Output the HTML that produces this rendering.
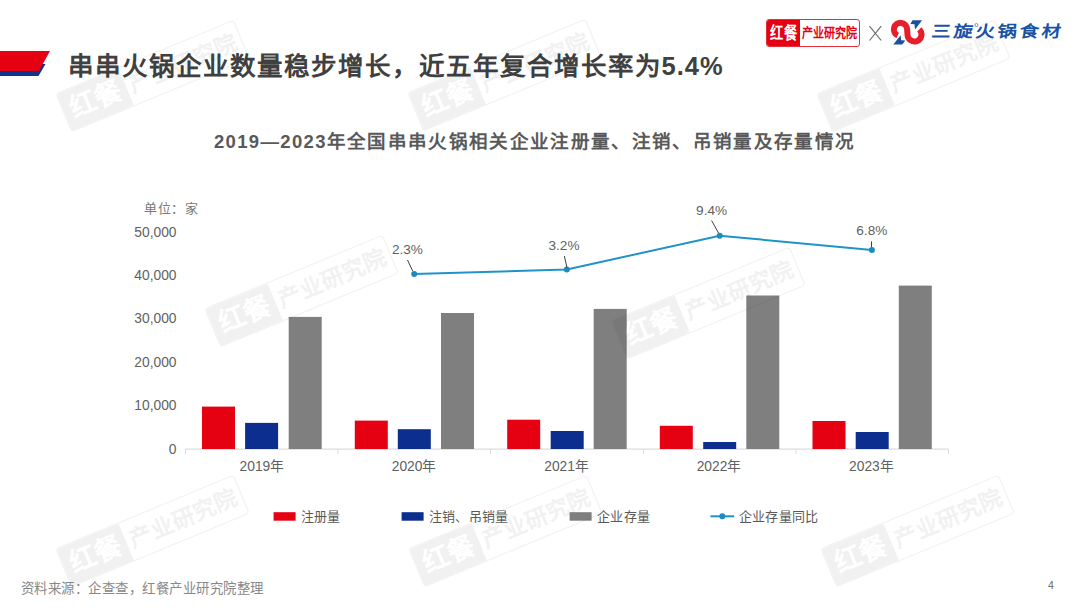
<!DOCTYPE html>
<html lang="zh-CN">
<head>
<meta charset="utf-8">
<style>
*{margin:0;padding:0;box-sizing:border-box}
html,body{width:1080px;height:608px;overflow:hidden;background:#fff}
body{position:relative;font-family:"Liberation Sans",sans-serif;color:#595959}
.abs{position:absolute;white-space:nowrap}
#title{left:67.5px;top:48.3px;font-size:25.5px;font-weight:bold;color:#404040;line-height:36px;letter-spacing:1.0px}
#ctitle{left:214px;top:128px;font-size:18.5px;font-weight:bold;color:#595959;line-height:28px;letter-spacing:1.33px}
#unit{left:144px;top:200px;font-size:13px;color:#7a7a7a;line-height:18px;letter-spacing:0.6px}
.yl{right:903.5px;font-size:13.8px;color:#5f5f5f;line-height:16px;text-align:right;margin-top:0.5px}
.xl{font-size:13.8px;color:#5f5f5f;line-height:18px;text-align:center;width:120px;margin-top:1px}
.pl{font-size:13.6px;color:#5f5f5f;line-height:16px;text-align:center;width:60px;margin-top:0.5px}
.lg{font-size:13px;color:#595959;line-height:18px;top:508px;letter-spacing:0.3px}
#foot{left:21px;top:578.5px;font-size:13.4px;color:#888;line-height:20px;letter-spacing:0.47px}
#pno{left:1048px;top:577.5px;font-size:10.5px;color:#666;line-height:14px}
svg{position:absolute;left:0;top:0}
.wm{position:absolute;width:193px;height:42px;margin-left:-96.5px;margin-top:-21px;transform:rotate(-22.5deg);opacity:0.05;z-index:5}
.wm .bx{position:absolute;left:0;top:0;width:193px;height:42px;border:1.5px solid #000;border-radius:4px;overflow:hidden}
.wm .fl{position:absolute;left:0;top:0;width:67px;height:42px;background:#000}
.wm .t1{position:absolute;left:6.5px;top:0;line-height:41px;font-size:27px;font-weight:bold;color:#fff;white-space:nowrap}
.wm .t2{position:absolute;left:71.5px;top:0;line-height:41px;font-size:22.5px;font-weight:bold;color:#000;white-space:nowrap}
#logo1{position:absolute;left:766px;top:19px;width:94px;height:28px;border:1px solid #e8303a;border-radius:3px;overflow:hidden;z-index:3}
#logo1 .rf{position:absolute;left:0;top:0;width:33px;height:28px;background:#e50012}
#logo1 .a{position:absolute;left:2.5px;top:0;line-height:26px;font-size:16.5px;font-weight:bold;color:#fff;white-space:nowrap;transform-origin:0 50%;transform:scaleX(0.8)}
#logo1 .b{position:absolute;left:35px;top:0;line-height:26px;font-size:13px;font-weight:bold;color:#e50012;white-space:nowrap;transform-origin:0 50%;transform:scaleX(0.85)}
#brand{position:absolute;left:931.5px;top:18px;line-height:28px;font-size:16px;font-weight:bold;color:#1a52a6;white-space:nowrap;letter-spacing:2.25px;transform-origin:0 50%;transform:scaleX(1.2) skewX(-6deg);z-index:3}

</style>
</head>
<body>
<!-- header bar -->
<svg width="1080" height="608" style="z-index:0">
  <polygon points="0,64 45.5,64 38.5,76 0,76" fill="#0d3590"/>
  <polygon points="0,51 50,51 39,71 0,71" fill="#e50012"/>
</svg>

<div class="abs" id="title">串串火锅企业数量稳步增长，近五年复合增长率为5.4%</div>
<div class="abs" id="ctitle">2019—2023年全国串串火锅相关企业注册量、注销、吊销量及存量情况</div>

<!-- chart -->
<svg width="1080" height="608" style="z-index:1">
  <!-- axis -->
  <line x1="185" y1="449.1" x2="949" y2="449.1" stroke="#dcdcdc" stroke-width="1.1"/>
  <line x1="185.5" y1="449" x2="185.5" y2="454.5" stroke="#dcdcdc"/>
  <line x1="338" y1="449" x2="338" y2="454" stroke="#dcdcdc"/>
  <line x1="490.5" y1="449" x2="490.5" y2="454" stroke="#dcdcdc"/>
  <line x1="643.5" y1="449" x2="643.5" y2="454" stroke="#dcdcdc"/>
  <line x1="796" y1="449" x2="796" y2="454" stroke="#dcdcdc"/>
  <line x1="948.5" y1="449" x2="948.5" y2="454" stroke="#dcdcdc"/>
  <!-- bars -->
  <g fill="#e50012">
    <rect x="202" y="406.6" width="33" height="42.4"/>
    <rect x="354.8" y="420.6" width="33" height="28.4"/>
    <rect x="507.2" y="419.7" width="33" height="29.3"/>
    <rect x="659.8" y="425.8" width="33" height="23.2"/>
    <rect x="812.5" y="421" width="33" height="28"/>
  </g>
  <g fill="#0c2e8e">
    <rect x="245.1" y="422.9" width="33" height="26.1"/>
    <rect x="397.8" y="429.2" width="33" height="19.8"/>
    <rect x="550.7" y="431" width="33" height="18"/>
    <rect x="703.2" y="442" width="33" height="7"/>
    <rect x="855.7" y="432" width="33" height="17"/>
  </g>
  <g fill="#7f7f7f">
    <rect x="288.7" y="316.9" width="33" height="132.1"/>
    <rect x="441" y="313" width="33" height="136"/>
    <rect x="593.7" y="308.9" width="33" height="140.1"/>
    <rect x="746.3" y="295.5" width="33" height="153.5"/>
    <rect x="898.8" y="285.6" width="33" height="163.4"/>
  </g>
  <!-- line -->
  <polyline points="414.2,274 566.8,269.5 719.7,235.7 871.9,250" fill="none" stroke="#1f94c8" stroke-width="2"/>
  <g fill="#1b8cc0">
    <circle cx="414.2" cy="274" r="3"/>
    <circle cx="566.8" cy="269.5" r="3"/>
    <circle cx="719.7" cy="235.7" r="3"/>
    <circle cx="871.9" cy="250" r="3"/>
  </g>
  <g stroke="#404040" stroke-width="1" fill="none">
    <line x1="407.5" y1="260" x2="412.7" y2="271"/>
    <line x1="564.4" y1="256" x2="567" y2="268"/>
    <line x1="711.6" y1="220.5" x2="718.5" y2="233"/>
    <line x1="871.5" y1="241.4" x2="871.5" y2="247"/>
  </g>
  <!-- legend swatches -->
  <rect x="273.6" y="512.2" width="22" height="8.5" fill="#e50012"/>
  <rect x="401.6" y="512.2" width="22" height="8.5" fill="#0c2e8e"/>
  <rect x="569.6" y="512.2" width="22" height="8.5" fill="#7f7f7f"/>
  <line x1="710.4" y1="516.3" x2="734.2" y2="516.3" stroke="#1f94c8" stroke-width="2"/>
  <circle cx="722.3" cy="516.3" r="3" fill="#1b8cc0"/>
</svg>

<div class="abs" id="unit">单位：家</div>
<div class="abs yl" style="top:224px">50,000</div>
<div class="abs yl" style="top:267px">40,000</div>
<div class="abs yl" style="top:310px">30,000</div>
<div class="abs yl" style="top:354px">20,000</div>
<div class="abs yl" style="top:397px">10,000</div>
<div class="abs yl" style="top:441px">0</div>

<div class="abs xl" style="left:201.9px;top:457px">2019年</div>
<div class="abs xl" style="left:354.1px;top:457px">2020年</div>
<div class="abs xl" style="left:506.6px;top:457px">2021年</div>
<div class="abs xl" style="left:659px;top:457px">2022年</div>
<div class="abs xl" style="left:811.4px;top:457px">2023年</div>

<div class="abs pl" style="left:377.4px;top:241px">2.3%</div>
<div class="abs pl" style="left:534px;top:237px">3.2%</div>
<div class="abs pl" style="left:681.6px;top:202px">9.4%</div>
<div class="abs pl" style="left:841.8px;top:222px">6.8%</div>

<div class="abs lg" style="left:300.5px">注册量</div>
<div class="abs lg" style="left:428.9px">注销、吊销量</div>
<div class="abs lg" style="left:597px">企业存量</div>
<div class="abs lg" style="left:738.9px">企业存量同比</div>

<div class="abs" id="foot">资料来源：企查查，红餐产业研究院整理</div>
<div class="abs" id="pno">4</div>


<div id="logo1"><div class="rf"></div><div class="a">红餐</div><div class="b">产业研究院</div></div>
<svg width="1080" height="608" style="z-index:3">
  <g stroke="#666" stroke-width="1.1"><line x1="869.5" y1="26.2" x2="881.2" y2="40.5"/><line x1="881.2" y1="26.2" x2="869.5" y2="40.5"/></g>
  <path d="M897.69,35.53 A6.65,6.65 0 1 1 907.15,29.50 L907.50,34.50 A7.0,7.0 0 1 0 919.32,29.42" fill="none" stroke="#e61e2b" stroke-width="6"/>
  <polygon points="912.6,20.2 922.1,20.2 915,29.4 914.5,24.2 910.4,24" fill="#1d4fa0"/>
  <polygon points="893.3,44.6 900.6,35.3 901.2,40.2 905.3,40.5 902.3,44.6" fill="#1d4fa0"/>
</svg>
<div id="brand">三旋火锅食材</div>
<svg width="1080" height="608" style="z-index:3"><circle cx="976.4" cy="25" r="1.5" fill="none" stroke="#1a52a6" stroke-width="0.6"/></svg>
<div class="wm" style="left:152.25px;top:76.3px"><div class="bx"><div class="fl"></div><div class="t1">红餐</div><div class="t2">产业研究院</div></div></div>
<div class="wm" style="left:504.7px;top:74.5px"><div class="bx"><div class="fl"></div><div class="t1">红餐</div><div class="t2">产业研究院</div></div></div>
<div class="wm" style="left:913.2px;top:75.9px"><div class="bx"><div class="fl"></div><div class="t1">红餐</div><div class="t2">产业研究院</div></div></div>
<div class="wm" style="left:301.9px;top:291.1px"><div class="bx"><div class="fl"></div><div class="t1">红餐</div><div class="t2">产业研究院</div></div></div>
<div class="wm" style="left:708.85px;top:302.85px"><div class="bx"><div class="fl"></div><div class="t1">红餐</div><div class="t2">产业研究院</div></div></div>
<div class="wm" style="left:152.2px;top:530.8px"><div class="bx"><div class="fl"></div><div class="t1">红餐</div><div class="t2">产业研究院</div></div></div>
<div class="wm" style="left:505.15px;top:530.85px"><div class="bx"><div class="fl"></div><div class="t1">红餐</div><div class="t2">产业研究院</div></div></div>
<div class="wm" style="left:917.8px;top:531.1px"><div class="bx"><div class="fl"></div><div class="t1">红餐</div><div class="t2">产业研究院</div></div></div>
</body>
</html>
